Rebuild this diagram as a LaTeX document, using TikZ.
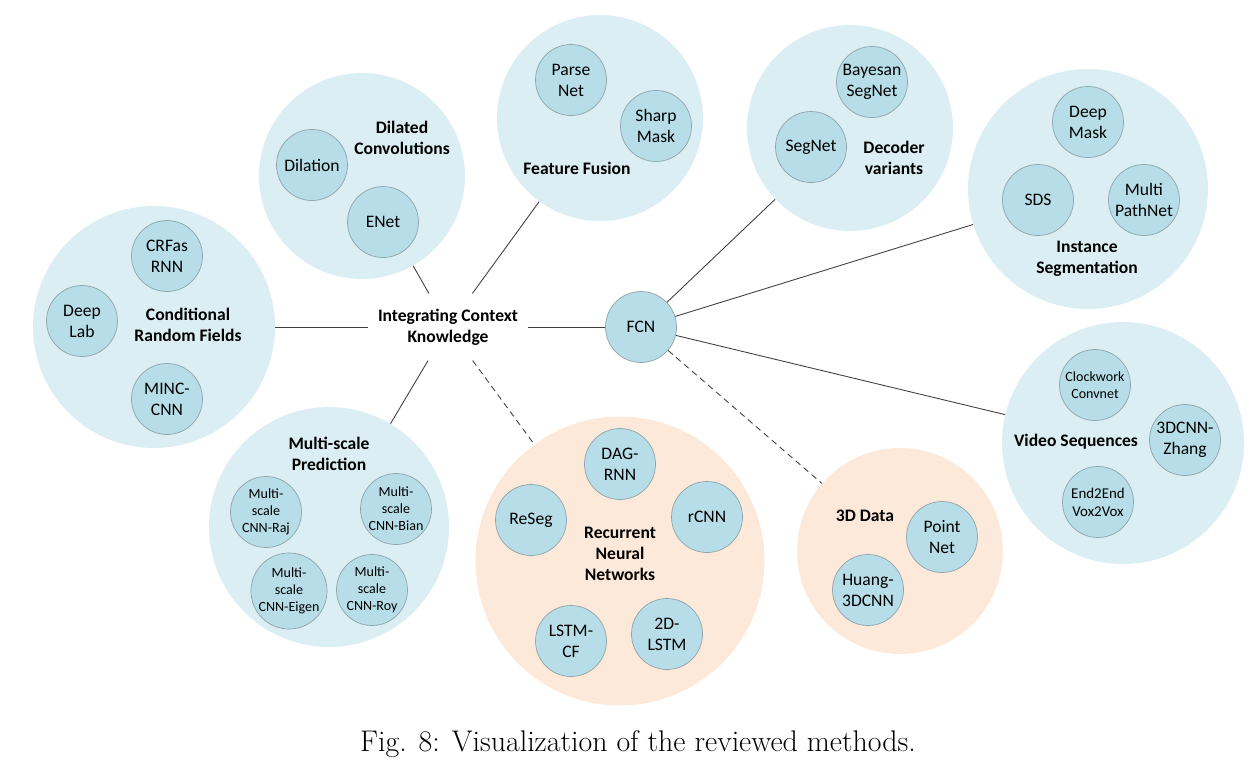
\documentclass[tikz,border=0pt]{standalone}
\usepackage{fontspec}
\setsansfont{Carlito}
\usepackage{tikz}
\usetikzlibrary{calc}
\definecolor{GrupoAzul}{HTML}{DBEEF3}
\definecolor{GrupoNaranja}{HTML}{FDE9D9}
\definecolor{MetodoAzul}{HTML}{B7DEE8}
\definecolor{BordeGris}{HTML}{8FA3A9}
\definecolor{Linea}{HTML}{3F3F3F}
\tikzset{
  grupo/.style   = {circle, fill=GrupoAzul, inner sep=0pt},
  grupon/.style  = {grupo, fill=GrupoNaranja},
  metodo/.style  = {circle, draw=BordeGris, line width=0.4pt, fill=MetodoAzul,
                    align=center, inner sep=0pt, minimum size=1.42cm,
                    font=\sffamily\fontsize{10}{12}\selectfont},
  metodop/.style = {metodo, font=\sffamily\fontsize{8}{9.6}\selectfont},
  titulo/.style  = {align=center, inner sep=1pt,
                    font=\sffamily\fontsize{10}{12}\selectfont\bfseries},
  enlace/.style  = {draw=Linea, line width=0.5pt},
  enlaced/.style = {enlace, dash pattern=on 3.5pt off 2.5pt},
}

\begin{document}
\begin{tikzpicture}[x=0.02cm, y=-0.02cm]
  \useasboundingbox (0,0) rectangle (1258,772);
  % grupos de metodos
  \node[grupo, minimum size=4.84cm]  (crf)  at (154,327) {};
  \node[grupo, minimum size=4.12cm]  (dil)  at (362,176) {};
  \node[grupo, minimum size=4.12cm]  (ff)   at (600,118) {};
  \node[grupo, minimum size=4.12cm]  (dec)  at (850,128) {};
  \node[grupo, minimum size=4.80cm]  (ins)  at (1088,189) {};
  \node[grupo, minimum size=4.84cm]  (vid)  at (1123,443) {};
  \node[grupon, minimum size=4.12cm] (tres) at (900,551) {};
  \node[grupon, minimum size=5.78cm] (rnn)  at (620,561) {};
  \node[grupo, minimum size=4.80cm]  (ms)   at (329,527) {};
  % nodos centrales
  \node[titulo, inner xsep=2mm, inner ysep=3mm] (ick) at (448,327) {Integrating Context\\Knowledge};
  \node[metodo] (fcn) at (641,327) {FCN};
  % conditional random fields
  \node[titulo] (crft) at (188,325) {Conditional\\Random Fields};
  \node[metodo] (crfrnn) at (167,256) {CRFas\\RNN};
  \node[metodo] (deeplab) at (82,321) {Deep\\Lab};
  \node[metodo] (minc) at (167,399) {MINC-\\CNN};
  % dilated convolutions
  \node[titulo] (dilt) at (402,138) {Dilated\\Convolutions};
  \node[metodo] (dilation) at (312,165) {Dilation};
  \node[metodo] (enet) at (383,222) {ENet};
  % feature fusion
  \node[titulo] (fft) at (577,168) {Feature Fusion};
  \node[metodo] (parse) at (571,80) {Parse\\Net};
  \node[metodo] (sharp) at (656,126) {Sharp\\Mask};
  % decoder variants
  \node[titulo] (dect) at (894,158) {Decoder\\variants};
  \node[metodo] (bayes) at (872,82) {Bayesan\\SegNet};
  \node[metodo] (segnet) at (811,147) {SegNet};
  % instance segmentation
  \node[titulo] (inst) at (1087,259) {Instance\\Segmentation};
  \node[metodo] (deepmask) at (1088,122) {Deep\\Mask};
  \node[metodo] (sds) at (1038,200) {SDS};
  \node[metodo] (mpn) at (1144,200) {Multi\\PathNet};
  % video sequences
  \node[titulo] (vidt) at (1076,442) {Video Sequences};
  \node[metodop] (clock) at (1095,385) {Clockwork\\Convnet};
  \node[metodo] (zhang) at (1185,440) {3DCNN-\\Zhang};
  \node[metodo, font=\sffamily\fontsize{8.5}{10.2}\selectfont] (vox) at (1098,502) {End2End\\Vox2Vox};
  % 3d data
  \node[titulo] (trest) at (865,516) {3D Data};
  \node[metodo] (point) at (942,537) {Point\\Net};
  \node[metodo] (huang) at (868,590) {Huang-\\3DCNN};
  % recurrent neural networks
  \node[titulo] (rnnt) at (620,554) {Recurrent\\Neural\\Networks};
  \node[metodo] (dag) at (620,464) {DAG-\\RNN};
  \node[metodo] (reseg) at (531,520) {ReSeg};
  \node[metodo] (rcnn) at (707,517) {rCNN};
  \node[metodo] (lstmcf) at (571,641) {LSTM-\\CF};
  \node[metodo] (lstm2d) at (667,634) {2D-\\LSTM};
  % multi-scale prediction
  \node[titulo] (mst) at (329,454) {Multi-scale\\Prediction};
  \node[metodop] (raj) at (266,512) {Multi-\\scale\\CNN-Raj};
  \node[metodop] (bian) at (396,509) {Multi-\\scale\\CNN-Bian};
  \node[metodop] (eigen) at (289,591) {Multi-\\scale\\CNN-Eigen};
  \node[metodop] (roy) at (372,590) {Multi-\\scale\\CNN-Roy};
  % enlaces
  \draw[enlace] (ick) -- (crf);
  \draw[enlace] (ick) -- (dil);
  \draw[enlace] (ick) -- (ff);
  \draw[enlace] (ick) -- (ms);
  \draw[enlaced] (ick) -- (rnn);
  \draw[enlace] (ick) -- (fcn);
  \draw[enlace] (fcn) -- (dec);
  \draw[enlace] (fcn) -- (ins);
  \draw[enlace] (fcn) -- (vid);
  \draw[enlaced] (fcn) -- (tres);
  % pie
  \node[font=\fontsize{17}{20}\selectfont] (pie) at (638,744) {Fig. 8: Visualization of the reviewed methods.};
\end{tikzpicture}
\end{document}
